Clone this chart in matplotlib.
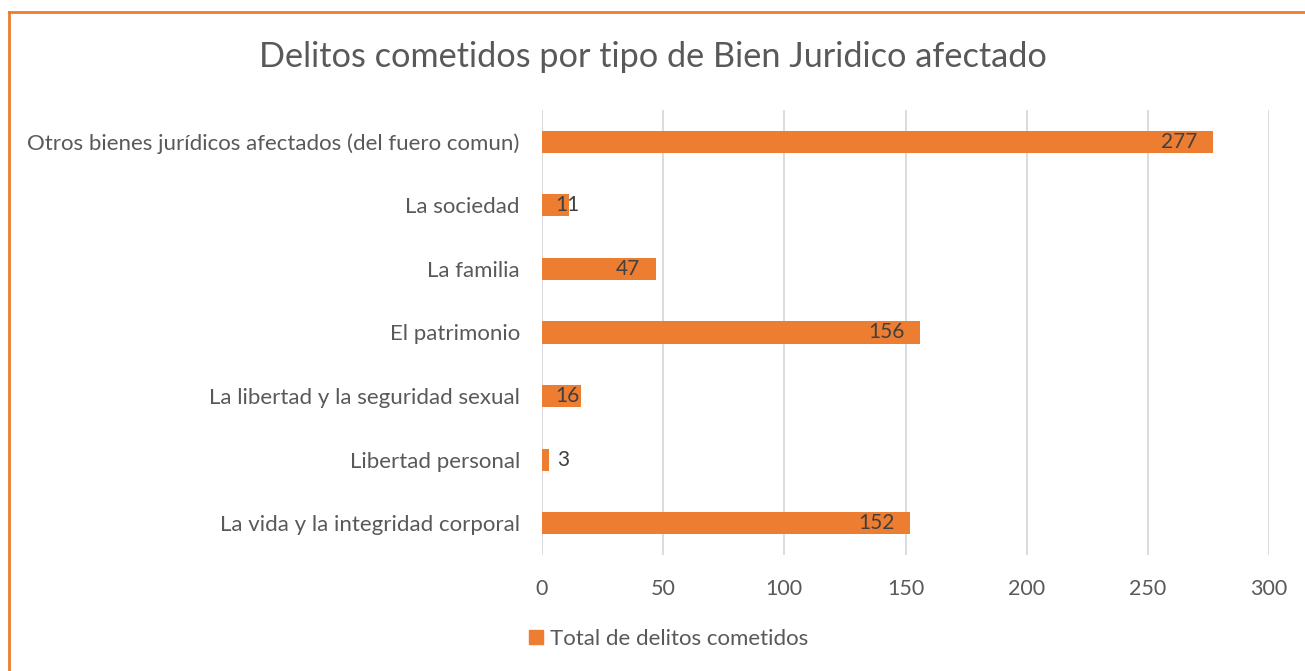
import matplotlib.pyplot as plt
from matplotlib.lines import Line2D

categorias = ['La vida y la integridad corporal', 'Libertad personal',
              'La libertad y la seguridad sexual', 'El patrimonio',
              'La familia', 'La sociedad',
              'Otros bienes jurídicos afectados (del fuero comun)']
valores = [152, 3, 16, 156, 47, 11, 277]
ticks_x = [0, 50, 100, 150, 200, 250, 300]

naranja = '#ED7D31'
gris_texto = '#595959'

plt.rcParams['font.family'] = ['Lato', 'DejaVu Sans']

W, H = 1305, 671
fig = plt.figure(figsize=(W / 100, H / 100), dpi=100)
ax = fig.add_axes([542 / W, 1 - 555 / H, (1269 - 542) / W, (555 - 110) / H])

pos = list(range(len(categorias)))
ax.barh(pos, valores, height=0.35, color=naranja, zorder=3)

ax.set_xlim(0, 300)
ax.set_ylim(-0.5, len(categorias) - 0.5)
ax.set_xticks(ticks_x)
ax.set_yticks(pos)
ax.set_yticklabels(categorias)
ax.tick_params(axis='both', length=0, labelcolor=gris_texto)
ax.tick_params(axis='y', pad=16, labelsize=16)
ax.tick_params(axis='x', pad=17, labelsize=15.5)
ax.grid(axis='x', color='#D9D9D9', linewidth=1.3, zorder=0)
for s in ax.spines.values():
    s.set_visible(False)

px_por_u = (1269 - 542) / 300.0
for p, v in zip(pos, valores):
    if v * px_por_u < 20:
        ax.text(v + 3.2, p, str(v), ha='left', va='center', fontsize=15,
                color='#404040', zorder=4)
    else:
        ax.text(max(v - 6.5, 15.5), p, str(v), ha='right', va='center',
                fontsize=15, color='#404040', zorder=4)

fig.text(0.5, 1 - 57 / H, 'Delitos cometidos por tipo de Bien Juridico afectado',
         ha='center', va='center', fontsize=24.7, color=gris_texto)

handle = Line2D([], [], marker='s', linestyle='none', markersize=10,
                markerfacecolor=naranja, markeredgecolor=naranja)
fig.legend([handle], ['Total de delitos cometidos'], loc='center',
           bbox_to_anchor=(667 / W, 1 - 639 / H), frameon=False, fontsize=16,
           labelcolor=gris_texto, handletextpad=0.15, handlelength=0.9)

# borde naranja (solo izquierdo y superior visibles)
fig.add_artist(Line2D([9 / W, 9 / W], [0, 1 - 12 / H], color=naranja,
                      linewidth=2, transform=fig.transFigure))
fig.add_artist(Line2D([9 / W, 1], [1 - 12 / H, 1 - 12 / H], color=naranja,
                      linewidth=2, transform=fig.transFigure))

fig.savefig('out.png', dpi=100)
